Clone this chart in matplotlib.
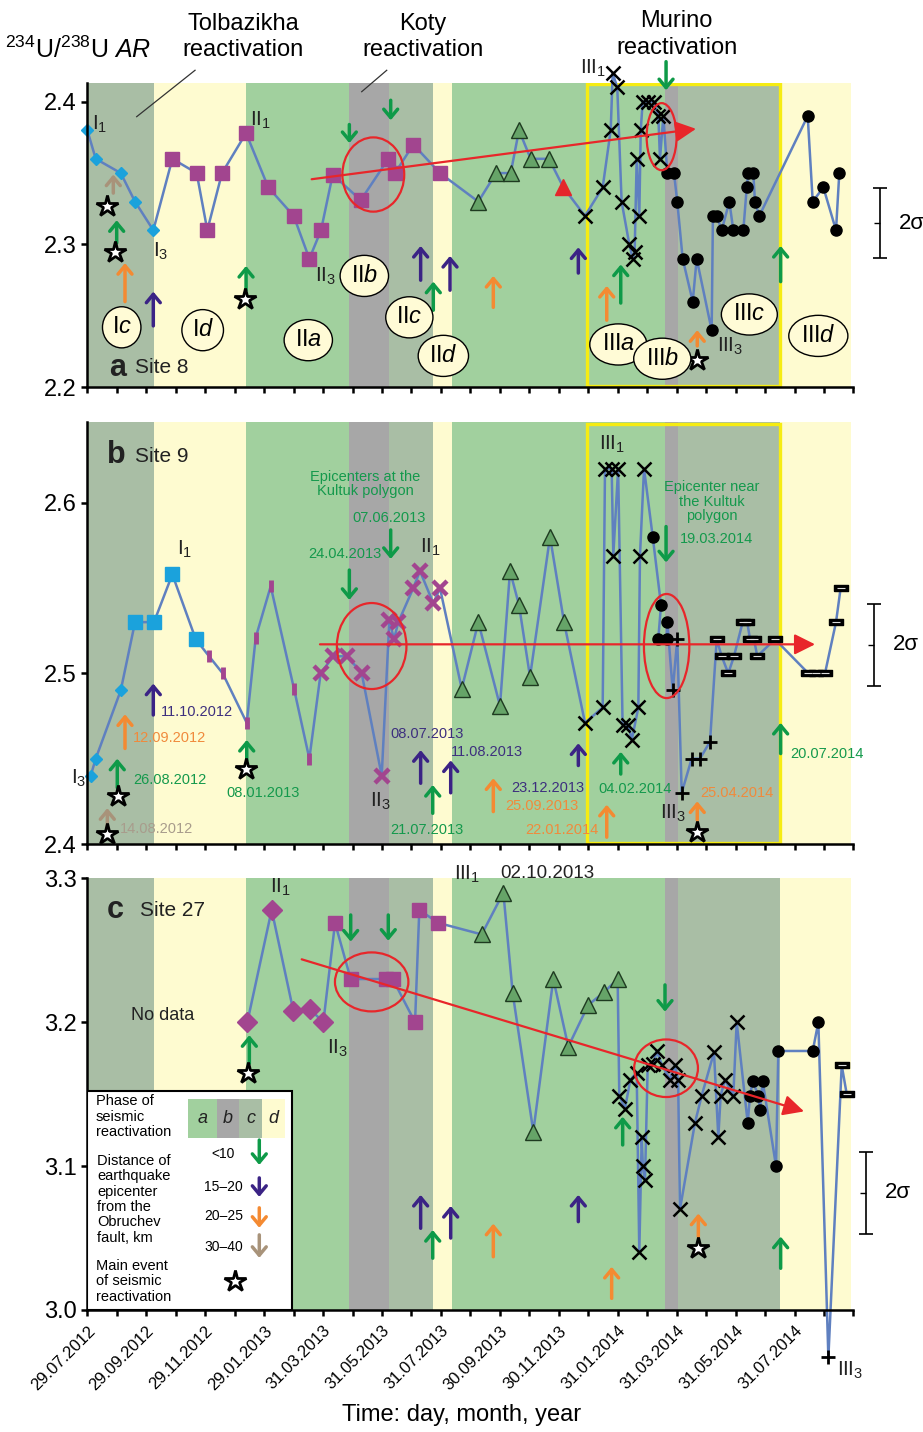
import matplotlib
matplotlib.use('Agg')
import matplotlib.pyplot as plt
from matplotlib.patches import Ellipse, Rectangle
import matplotlib.transforms as mtransforms

plt.rcParams['font.family'] = ['Liberation Sans', 'DejaVu Sans']
plt.rcParams['mathtext.fontset'] = 'custom'
plt.rcParams['mathtext.rm'] = 'Liberation Sans'
plt.rcParams['mathtext.it'] = 'Liberation Sans:italic'
plt.rcParams['mathtext.bf'] = 'Liberation Sans:bold'

# x axis = days since 29.07.2012
tick_days = [k * 30.5 for k in range(27)]
tick_text = ['29.07.2012', '29.09.2012', '29.11.2012', '29.01.2013', '31.03.2013',
             '31.05.2013', '31.07.2013', '30.09.2013', '30.11.2013', '31.01.2014',
             '31.03.2014', '31.05.2014', '31.07.2014']

# seismic reactivation phases (background)
phase_edges = [0, 69, 164.3, 270.8, 312.5, 357.8, 377.5, 598, 611, 717, 790]
phase_names = ['c', 'd', 'a', 'b', 'c', 'd', 'a', 'b', 'c', 'd']
box_days = (517.2, 716.9)

# ---------------- Site 8 ----------------
a_dia_x = [0, 8.7, 34.6, 49.4, 68.3]
a_dia_y = [2.38, 2.36, 2.35, 2.33, 2.31]
a_sq_x = [88, 113.2, 124.2, 139.4, 164.3, 187.3, 213.6, 229.8, 241.9, 254, 283, 311.5, 318.5, 337.4, 365]
a_sq_y = [2.36, 2.35, 2.31, 2.35, 2.378, 2.34, 2.32, 2.29, 2.31, 2.349, 2.331, 2.36, 2.35, 2.37, 2.35]
a_tri_x = [404.7, 423, 438.2, 446.8, 458.9, 477.8]
a_tri_y = [2.33, 2.35, 2.35, 2.38, 2.36, 2.36]
a_red_x = [492.7]
a_red_y = [2.34]
a_x_x = [515.1, 533.4, 541.7, 543.8, 548.5, 553, 561, 564.5, 566.5, 568.6, 571.3, 572.8, 574.8,
         580.6, 586.5, 591, 592.7, 596.2]
a_x_y = [2.32, 2.34, 2.38, 2.42, 2.41, 2.33, 2.30, 2.29, 2.295, 2.36, 2.32, 2.38, 2.40,
         2.40, 2.40, 2.39, 2.36, 2.39]
a_dot_x = [600.3, 607.2, 610.6, 616.2, 626.6, 630.7, 646.2, 647.5, 651.4, 656.6, 664.5, 668.6,
           679, 682.5, 684, 689.3, 691, 695.5, 745.6, 750.8, 761.8, 774.9, 778.3]
a_dot_y = [2.35, 2.35, 2.33, 2.29, 2.26, 2.29, 2.24, 2.32, 2.32, 2.31, 2.33, 2.31,
           2.31, 2.34, 2.35, 2.35, 2.33, 2.32, 2.39, 2.33, 2.34, 2.31, 2.35]

a_arr_x = [26.9, 30.4, 39, 68.3, 164.3, 271.2, 314, 345, 358.1, 375.4, 420.2, 508.2, 537.6, 552.1, 599, 631.3, 717.6]
a_arr_from = [2.336, 2.301, 2.260, 2.243, 2.268, 2.384, 2.401, 2.275, 2.254, 2.268, 2.256, 2.280, 2.247, 2.259, 2.428, 2.229, 2.274]
a_arr_to = [2.349, 2.317, 2.287, 2.267, 2.285, 2.371, 2.387, 2.299, 2.274, 2.292, 2.278, 2.298, 2.271, 2.286, 2.408, 2.240, 2.299]
a_arr_col = ['br', 'g', 'o', 'p', 'g', 'g', 'g', 'p', 'g', 'p', 'o', 'p', 'o', 'g', 'g', 'o', 'g']
a_star_x = [20.1, 28.7, 163.2, 631.3]
a_star_y = [2.327, 2.295, 2.262, 2.219]

a_phase_lab = [(35.6, 2.242, 'I', 'c'), (119.4, 2.240, 'I', 'd'), (228.7, 2.233, 'II', 'a'),
               (286.7, 2.278, 'II', 'b'), (333.3, 2.249, 'II', 'c'), (368.5, 2.222, 'II', 'd'),
               (549.6, 2.230, 'III', 'a'), (595.1, 2.220, 'III', 'b'), (685.2, 2.251, 'III', 'c'),
               (756.6, 2.236, 'III', 'd')]
a_marks = [(13.2, 2.384, 'I$_1$'), (76.3, 2.295, 'I$_3$'), (178.7, 2.387, 'II$_1$'),
           (246, 2.278, 'II$_3$'), (523.7, 2.423, 'III$_1$'), (665.2, 2.229, 'III$_3$')]
a_trend = [(232.2, 2.3457), (630, 2.381)]
a_ellipses = [(296, 2.349, 64, 0.052), (594.4, 2.3755, 31, 0.047)]

# ---------------- Site 9 ----------------
b_dia_x = [3.5, 8.7, 34.6]
b_dia_y = [2.44, 2.45, 2.49]
b_sq_x = [49.4, 69, 88, 112.2]
b_sq_y = [2.53, 2.53, 2.558, 2.52]
b_bar_x = [126, 140.1, 165, 174.3, 189.8, 213.9, 229.8]
b_bar_y = [2.51, 2.50, 2.471, 2.521, 2.551, 2.491, 2.45]
b_mx_x = [241.5, 254.6, 269.1, 284, 304.7, 312.6, 317.4, 321.9, 337.4, 344.3, 358.1, 365]
b_mx_y = [2.50, 2.51, 2.51, 2.50, 2.44, 2.531, 2.52, 2.53, 2.55, 2.56, 2.541, 2.55]
b_tri_x = [387.5, 404.7, 427.1, 437.5, 446.8, 458.2, 478.9, 493.4]
b_tri_y = [2.491, 2.53, 2.481, 2.56, 2.54, 2.498, 2.58, 2.53]
b_x_x = [515.1, 533.4, 535.8, 542.7, 544.4, 549.4, 554, 560, 563.5, 570.3, 572, 576.2]
b_x_y = [2.471, 2.48, 2.62, 2.62, 2.569, 2.62, 2.47, 2.47, 2.461, 2.48, 2.569, 2.62]
b_dot_x = [585.2, 593.8, 590.9, 599.6, 600.3]
b_dot_y = [2.58, 2.54, 2.52, 2.52, 2.53]
b_plus_x = [605.9, 610.6, 615.2, 625.5, 634.1, 644.5]
b_plus_y = [2.49, 2.52, 2.43, 2.45, 2.45, 2.46]
b_dash_x = [651.4, 656.6, 663.4, 669.3, 678.3, 683, 685.9, 690, 693.4, 711.7, 746.3, 754.2, 763.5, 774.9, 779.7]
b_dash_y = [2.52, 2.51, 2.50, 2.51, 2.53, 2.53, 2.52, 2.52, 2.51, 2.52, 2.50, 2.50, 2.50, 2.53, 2.55]

b_arr_x = [68.3, 39, 31, 20.7, 165, 314, 271.2, 345, 357.5, 376.1, 420.2, 508.2, 537.6, 552.1, 599, 631.3, 717.6]
b_arr_from = [2.4756, 2.456, 2.433, 2.410, 2.449, 2.584, 2.5605, 2.4356, 2.418, 2.430, 2.419, 2.446, 2.404, 2.441, 2.586, 2.414, 2.453]
b_arr_to = [2.494, 2.476, 2.450, 2.421, 2.461, 2.567, 2.543, 2.455, 2.4346, 2.449, 2.4385, 2.459, 2.423, 2.454, 2.565, 2.425, 2.471]
b_arr_col = ['p', 'o', 'g', 'br', 'g', 'g', 'g', 'p', 'g', 'p', 'o', 'p', 'o', 'g', 'g', 'o', 'g']
b_star_x = [32.1, 20.1, 164.3, 631.3]
b_star_y = [2.428, 2.406, 2.444, 2.407]

b_dates = [(76, 2.4775, '11.10.2012', 'p', 'left'), (47.3, 2.462, '12.09.2012', 'o', 'left'),
           (47.3, 2.4375, '26.08.2012', 'g', 'left'), (33.9, 2.409, '14.08.2012', 'br', 'left'),
           (182.2, 2.4297, '08.01.2013', 'g', 'center'), (266.7, 2.570, '24.04.2013', 'g', 'center'),
           (312.6, 2.591, '07.06.2013', 'g', 'center'),
           (287.4, 2.611, 'Epicenters at the\nKultuk polygon', 'g', 'center'),
           (351.3, 2.4644, '08.07.2013', 'p', 'center'), (351.3, 2.408, '21.07.2013', 'g', 'center'),
           (376.4, 2.454, '11.08.2013', 'p', 'left'), (470.3, 2.422, '25.09.2013', 'o', 'center'),
           (477.1, 2.433, '23.12.2013', 'p', 'center'), (491, 2.408, '22.01.2014', 'o', 'center'),
           (566.9, 2.432, '04.02.2014', 'g', 'center'),
           (646.2, 2.6005, 'Epicenter near\nthe Kultuk\npolygon', 'g', 'center'),
           (651.4, 2.579, '19.03.2014', 'g', 'center'), (672.1, 2.430, '25.04.2014', 'o', 'center'),
           (727.3, 2.4527, '20.07.2014', 'g', 'left')]
b_marks = [(101.1, 2.5726, 'I$_1$'), (-9.3, 2.4385, 'I$_3$'), (354.7, 2.574, 'II$_1$'),
           (302.9, 2.4248, 'II$_3$'), (542.7, 2.634, 'III$_1$'), (606.5, 2.418, 'III$_3$')]
b_trend = [(240.8, 2.517), (753.2, 2.517)]
b_ellipses = [(294.3, 2.516, 72, 0.0504), (599.6, 2.516, 47, 0.061)]

# ---------------- Site 27 ----------------
c_dia_x = [165.6, 190.8, 213.2, 230.5, 244.3]
c_dia_y = [3.20, 3.278, 3.208, 3.209, 3.20]
c_sq_x = [256.4, 272.6, 308.8, 316.1, 339.2, 343.6, 363.3]
c_sq_y = [3.269, 3.23, 3.23, 3.23, 3.20, 3.278, 3.269]
c_tri_x = [408.2, 430.6, 440.3, 461.6, 482.3, 497.8, 518.5, 535.1, 548.9]
c_tri_y = [3.261, 3.29, 3.22, 3.124, 3.23, 3.183, 3.212, 3.221, 3.23]
c_x_x = [550.6, 556.5, 562, 568.6, 571.3, 573.8, 575, 577.2, 580, 585.8, 589.3, 595, 602.9, 608,
         611.5, 613.4, 628.9, 635.9, 648.6, 653.1, 655.5, 660, 668.6, 672.1]
c_x_y = [3.149, 3.14, 3.16, 3.165, 3.04, 3.12, 3.10, 3.09, 3.17, 3.171, 3.18, 3.17, 3.16, 3.17,
         3.16, 3.07, 3.13, 3.149, 3.179, 3.12, 3.149, 3.16, 3.149, 3.20]
c_dot_x = [683.5, 685.9, 688.7, 694.5, 696.2, 699, 712.8, 715.2, 750.8, 756.6]
c_dot_y = [3.13, 3.149, 3.159, 3.149, 3.139, 3.159, 3.10, 3.18, 3.18, 3.20]
c_plus_x = [767]
c_plus_y = [2.967]
c_dash_x = [780.8, 786]
c_dash_y = [3.17, 3.15]

c_arr_x = [167.7, 272.6, 311.5, 345, 357.5, 376.1, 420.2, 508.2, 542.7, 554.1, 597.9, 632.4, 717.6]
c_arr_from = [3.1714, 3.2745, 3.2745, 3.0568, 3.036, 3.050, 3.037, 3.0614, 3.0081, 3.1147, 3.2259, 3.051, 3.029]
c_arr_to = [3.191, 3.256, 3.2566, 3.080, 3.0556, 3.0723, 3.060, 3.080, 3.030, 3.1343, 3.2073, 3.067, 3.051]
c_arr_col = ['g', 'g', 'g', 'p', 'g', 'p', 'o', 'p', 'o', 'g', 'g', 'o', 'g']
c_star_x = [166.6, 632.4]
c_star_y = [3.165, 3.043]
c_marks = [(199.4, 3.294, 'II$_1$'), (258.7, 3.182, 'II$_3$'), (392.7, 3.303, 'III$_1$'),
           (790, 2.958, 'III$_3$')]
c_trend = [(221.9, 3.2437), (741.8, 3.138)]
c_ellipses = [(294.3, 3.228, 76, 0.041), (599, 3.168, 66, 0.040)]

# legend (inside Site 27 panel)
leg_rows = ['<10', '15\u201320', '20\u201325', '30\u201340']
leg_row_y = [3.1086, 3.0857, 3.0653, 3.0436]
leg_arr_from = [3.1181, 3.0918, 3.0710, 3.0522]
leg_arr_to = [3.1008, 3.0786, 3.0571, 3.0362]
leg_arr_col = ['g', 'p', 'o', 'br']

# 2 sigma bars: (x, centre, half)
sig_a = (820.4, 2.315, 0.0245)
sig_b = (814.2, 2.5167, 0.024)
sig_c = (805.9, 3.0815, 0.0286)

PHASE_COL = {'a': '#a1d09e', 'b': '#a7a7a7', 'c': '#a9bea5', 'd': '#fefbd0'}
ARR_COL = {'g': '#0e9a48', 'p': '#3b2385', 'o': '#f48a32', 'br': '#a8937a'}
TXT_COL = {'g': '#14994c', 'p': '#3d2f7e', 'o': '#f08a3c', 'br': '#a89c8c'}
LINE = '#5f80c0'
BLUE = '#1ba2dc'
MAG = '#a2458f'
DASH = [(-1, -0.45), (1, -0.45), (1, 0.45), (-1, 0.45), (-1, -0.45)]

STY = {
    'bdia': dict(marker='D', ms=6, mfc=BLUE, mec=BLUE),
    'bsq': dict(marker='s', ms=10, mfc=BLUE, mec=BLUE),
    'msq': dict(marker='s', ms=10, mfc=MAG, mec=MAG),
    'mdia': dict(marker='D', ms=10, mfc=MAG, mec=MAG),
    'mbar': dict(marker='|', ms=9, mew=3.5, mec=MAG),
    'mx': dict(marker='x', ms=10, mew=3.2, mec=MAG),
    'tri': dict(marker='^', ms=12, mfc='#66a468', mec='#1e3a20', mew=1),
    'rtri': dict(marker='^', ms=11, mfc='#e4262b', mec='#e4262b'),
    'x': dict(marker='x', ms=9.5, mew=1.8, mec='black'),
    'dot': dict(marker='o', ms=8, mfc='black', mec='black'),
    'plus': dict(marker='+', ms=10, mew=2, mec='black'),
    'dash': dict(marker=DASH, ms=10, mfc='black', mec='black'),
}


def draw_background(ax, box=True):
    for i, p in enumerate(phase_names):
        ax.axvspan(phase_edges[i], phase_edges[i + 1], color=PHASE_COL[p], lw=0, zorder=0)
    if box:
        trans = mtransforms.blended_transform_factory(ax.transData, ax.transAxes)
        ax.add_patch(Rectangle((box_days[0], 0.003), box_days[1] - box_days[0], 0.994, transform=trans,
                               fill=False, ec='#f6ec12', lw=2.4, zorder=1))


def draw_series(ax, groups):
    xs, ys = [], []
    for gx, gy, st in groups:
        xs += gx
        ys += gy
    ax.plot(xs, ys, color=LINE, lw=1.8, zorder=2, clip_on=False)
    for gx, gy, st in groups:
        ax.plot(gx, gy, ls='none', zorder=3, clip_on=False, **STY[st])
        if st == 'dash':
            ax.plot(gx, gy, ls='none', marker='_', ms=6, mew=0.8, mec='#dddddd', zorder=3.5, clip_on=False)


def draw_arrows(ax, xs, y0s, y1s, cols):
    for x, y0, y1, c in zip(xs, y0s, y1s, cols):
        ax.annotate('', xy=(x, y1), xytext=(x, y0), annotation_clip=False,
                    arrowprops=dict(arrowstyle='->,head_length=0.6,head_width=0.5', lw=2.5,
                                    color=ARR_COL[c], shrinkA=0, shrinkB=0), zorder=4)


def draw_stars(ax, xs, ys):
    ax.plot(xs, ys, ls='none', marker='*', ms=16, mfc='white', mec='black', mew=2,
            zorder=5, clip_on=False)


def draw_trend(ax, pts, ells):
    ax.annotate('', xy=pts[1], xytext=pts[0],
                arrowprops=dict(arrowstyle='-|>,head_length=0.9,head_width=0.45', lw=1.6,
                                color='#e8262a', shrinkA=0, shrinkB=0, mutation_scale=14), zorder=4)
    for x, y, w, h in ells:
        ax.add_patch(Ellipse((x, y), w, h, fill=False, ec='#e8262a', lw=1.6, zorder=4))


def draw_marks(ax, marks):
    for x, y, t in marks:
        ax.text(x, y, t, fontsize=15, ha='center', va='center', color='#222222', zorder=6)


def draw_sigma(ax, sig):
    x, y, h = sig
    eb = ax.errorbar([x], [y], yerr=[h], color='black', lw=1.2, capsize=5, capthick=1.2)
    for art in list(eb.lines[1]) + list(eb.lines[2]):
        art.set_clip_on(False)
    eb.lines[0].set_clip_on(False)
    ax.plot([x - 3], [y], marker='_', ms=4, color='black', clip_on=False)
    ax.text(x + 20, y, '2\u03c3', fontsize=16, ha='left', va='center')


def style_axes(ax, ylim, yticks, labels=False):
    ax.set_xlim(0, 793)
    ax.set_ylim(*ylim)
    ax.set_yticks(yticks)
    ax.set_yticklabels([f'{v:.1f}' for v in yticks])
    ax.set_xticks(tick_days)
    if labels:
        lab = []
        for k in range(len(tick_days)):
            if k % 2 == 0 and k // 2 < len(tick_text):
                lab.append(tick_text[k // 2])
            else:
                lab.append('')
        ax.set_xticklabels(lab, rotation=45, ha='right', rotation_mode='anchor', fontsize=12)
    else:
        ax.set_xticklabels([])
    for s in ['top', 'right']:
        ax.spines[s].set_visible(False)
    for s in ['left', 'bottom']:
        ax.spines[s].set_linewidth(1.8)
        ax.spines[s].set_zorder(7)
    ax.tick_params(axis='both', direction='out', length=4.5, width=1.8)
    ax.tick_params(axis='y', labelsize=17, pad=3)
    ax.tick_params(axis='x', pad=5)


fig = plt.figure(figsize=(9.23, 14.32), dpi=100)
ax_a = fig.add_axes([0.0946, 0.72954, 0.8301, 0.21271])
ax_b = fig.add_axes([0.0946, 0.41061, 0.8301, 0.29449])
ax_c = fig.add_axes([0.0946, 0.08520, 0.8301, 0.30146])

# ---- panel a ----
draw_background(ax_a)
draw_series(ax_a, [(a_dia_x, a_dia_y, 'bdia'), (a_sq_x, a_sq_y, 'msq'), (a_tri_x, a_tri_y, 'tri'),
                   (a_red_x, a_red_y, 'rtri'), (a_x_x, a_x_y, 'x'), (a_dot_x, a_dot_y, 'dot')])
draw_arrows(ax_a, a_arr_x, a_arr_from, a_arr_to, a_arr_col)
draw_stars(ax_a, a_star_x, a_star_y)
draw_trend(ax_a, a_trend, a_ellipses)
draw_marks(ax_a, a_marks)
for x, y, rom, let in a_phase_lab:
    ax_a.text(x, y, rom + r'$\mathit{' + let + '}$', fontsize=17, ha='center', va='center', zorder=6,
              bbox=dict(boxstyle='ellipse,pad=0.15', fc='#fffbd6', ec='black', lw=1))
ax_a.text(31.8, 2.2138, 'a', fontsize=22, fontweight='bold', ha='center', va='center', color='#222222')
ax_a.text(49.4, 2.2138, 'Site 8', fontsize=15, ha='left', va='center', color='#222222')
ax_a.text(-85, 2.436, r'$^{234}$U/$^{238}$U $\mathit{AR}$', fontsize=18, ha='left', va='center')
ax_a.text(161.1, 2.4452, 'Tolbazikha\nreactivation', fontsize=17, ha='center', va='center', linespacing=1.25)
ax_a.text(347.4, 2.4452, 'Koty\nreactivation', fontsize=17, ha='center', va='center', linespacing=1.25)
ax_a.text(610, 2.4470, 'Murino\nreactivation', fontsize=17, ha='center', va='center', linespacing=1.25)
ax_a.plot([51.1, 111.5], [2.3895, 2.422], color='#333333', lw=0.9, clip_on=False)
ax_a.plot([284, 309.9], [2.407, 2.422], color='#333333', lw=0.9, clip_on=False)
draw_sigma(ax_a, sig_a)
style_axes(ax_a, (2.2, 2.4133), [2.2, 2.3, 2.4])

# ---- panel b ----
draw_background(ax_b)
draw_series(ax_b, [(b_dia_x, b_dia_y, 'bdia'), (b_sq_x, b_sq_y, 'bsq'), (b_bar_x, b_bar_y, 'mbar'),
                   (b_mx_x, b_mx_y, 'mx'), (b_tri_x, b_tri_y, 'tri'), (b_x_x, b_x_y, 'x'),
                   (b_dot_x, b_dot_y, 'dot'), (b_plus_x, b_plus_y, 'plus'), (b_dash_x, b_dash_y, 'dash')])
draw_arrows(ax_b, b_arr_x, b_arr_from, b_arr_to, b_arr_col)
draw_stars(ax_b, b_star_x, b_star_y)
draw_trend(ax_b, b_trend, b_ellipses)
draw_marks(ax_b, b_marks)
for x, y, t, c, ha in b_dates:
    ax_b.text(x, y, t, fontsize=10.5, color=TXT_COL[c], ha=ha, va='center', linespacing=1.05, zorder=6)
ax_b.text(30.4, 2.628, 'b', fontsize=22, fontweight='bold', ha='center', va='center', color='#222222')
ax_b.text(49.4, 2.627, 'Site 9', fontsize=15, ha='left', va='center', color='#222222')
draw_sigma(ax_b, sig_b)
style_axes(ax_b, (2.4, 2.6471), [2.4, 2.5, 2.6])

# ---- panel c ----
draw_background(ax_c, box=False)
draw_series(ax_c, [(c_dia_x, c_dia_y, 'mdia'), (c_sq_x, c_sq_y, 'msq'), (c_tri_x, c_tri_y, 'tri'),
                   (c_x_x, c_x_y, 'x'), (c_dot_x, c_dot_y, 'dot'), (c_plus_x, c_plus_y, 'plus'),
                   (c_dash_x, c_dash_y, 'dash')])
draw_arrows(ax_c, c_arr_x, c_arr_from, c_arr_to, c_arr_col)
draw_stars(ax_c, c_star_x, c_star_y)
draw_trend(ax_c, c_trend, c_ellipses)
draw_marks(ax_c, c_marks)
ax_c.text(427.2, 3.303, '02.10.2013', fontsize=13.5, ha='left', va='center', color='#222222')
ax_c.text(28.7, 3.278, 'c', fontsize=22, fontweight='bold', ha='center', va='center', color='#222222')
ax_c.text(54.6, 3.2775, 'Site 27', fontsize=15, ha='left', va='center', color='#222222')
ax_c.text(77.6, 3.2045, 'No data', fontsize=13, ha='center', va='center', color='#222222')
draw_sigma(ax_c, sig_c)

# legend box
ax_c.add_patch(Rectangle((0, 3.0), 211.6, 0.1524, fc='white', ec='black', lw=1.5, zorder=8))
ax_c.text(9, 3.150, 'Phase of\nseismic\nreactivation', fontsize=10.5, ha='left', va='top',
          linespacing=1.15, zorder=9)
sw_edges = [103.9, 133.9, 157.3, 180.8, 204.4]
for i, p in enumerate(['a', 'b', 'c', 'd']):
    ax_c.add_patch(Rectangle((sw_edges[i], 3.1197), sw_edges[i + 1] - sw_edges[i], 0.0269,
                             fc=PHASE_COL[p], ec='none', zorder=9))
    ax_c.text((sw_edges[i] + sw_edges[i + 1]) / 2, 3.1334, p, fontsize=13, style='italic',
              ha='center', va='center', zorder=10, color='#222222')
for t, y in zip(leg_rows, leg_row_y):
    ax_c.text(140.8, y, t, fontsize=10, ha='center', va='center', zorder=10)
for y0, y1, c in zip(leg_arr_from, leg_arr_to, leg_arr_col):
    ax_c.annotate('', xy=(178, y1), xytext=(178, y0),
                  arrowprops=dict(arrowstyle='->,head_length=0.6,head_width=0.5', lw=2.5,
                                  color=ARR_COL[c], shrinkA=0, shrinkB=0), zorder=10)
ax_c.text(10.4, 3.1084, 'Distance of\nearthquake\nepicenter\nfrom the\nObruchev\nfault, km',
          fontsize=10.5, ha='left', va='top', linespacing=1.12, zorder=10)
ax_c.text(9, 3.0354, 'Main event\nof seismic\nreactivation', fontsize=10.5, ha='left', va='top',
          linespacing=1.12, zorder=10)
ax_c.plot([152.9], [3.0204], ls='none', marker='*', ms=16, mfc='white', mec='black', mew=2, zorder=10)

style_axes(ax_c, (3.0, 3.3), [3.0, 3.1, 3.2, 3.3], labels=True)
fig.text(0.5005, 0.0119, 'Time: day, month, year', fontsize=17, ha='center', va='center')

fig.savefig('out.png', dpi=100)
